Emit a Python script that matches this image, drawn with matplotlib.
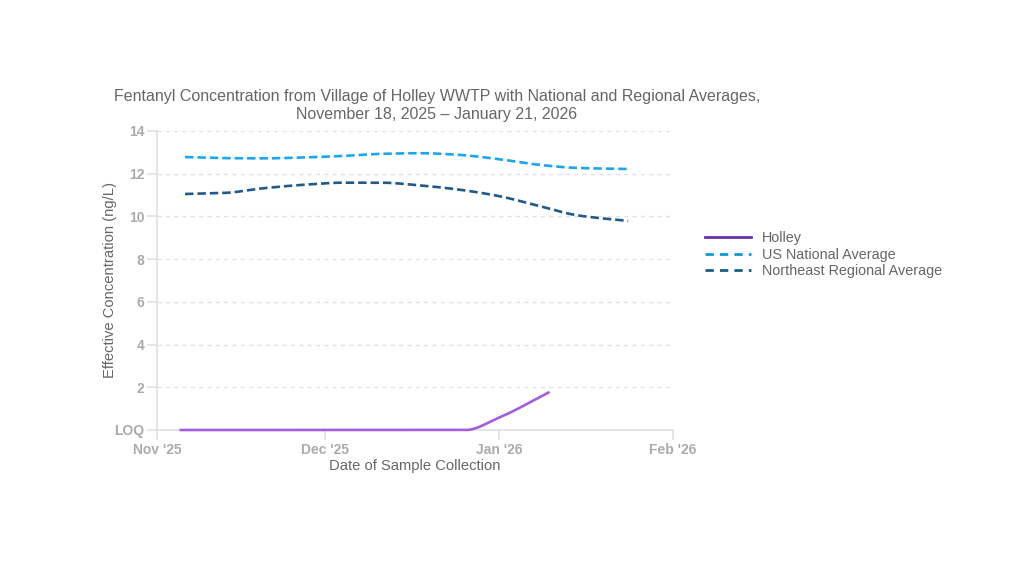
import datetime
import numpy as np
import matplotlib
matplotlib.use('agg')
import matplotlib.pyplot as plt
import matplotlib.dates as mdates
from matplotlib.lines import Line2D

plt.rcParams['font.family'] = ['Liberation Sans', 'DejaVu Sans']

# Data
holley_dates = ["2025-11-05", "2025-11-12", "2025-11-19", "2025-11-26", "2025-12-03",
                "2025-12-10", "2025-12-17", "2025-12-26", "2026-01-01", "2026-01-10"]
holley_values = [0, 0, 0, 0, 0, 0, 0, 0, 0.58, 1.78]

avg_dates = ["2025-11-06", "2025-11-13", "2025-11-20", "2025-11-27", "2025-12-04", "2025-12-11",
             "2025-12-18", "2025-12-25", "2026-01-01", "2026-01-08", "2026-01-15", "2026-01-24"]
national_values = [12.78, 12.73, 12.72, 12.76, 12.83, 12.93, 12.96, 12.88, 12.68, 12.42, 12.27, 12.22]
northeast_values = [11.05, 11.10, 11.32, 11.48, 11.58, 11.58, 11.45, 11.25, 10.95, 10.50, 10.05, 9.79]

y_ticks = [0, 2, 4, 6, 8, 10, 12, 14]
y_tick_labels = ["LOQ", "2", "4", "6", "8", "10", "12", "14"]
x_ticks = ["2025-11-01", "2025-12-01", "2026-01-01", "2026-02-01"]
x_tick_labels = ["Nov '25", "Dec '25", "Jan '26", "Feb '26"]

HOLLEY_COLOR = "#a25de0"
NATIONAL_COLOR = "#1aa6f2"
NORTHEAST_COLOR = "#1f5a8a"


def to_num(dates):
    return mdates.date2num([datetime.datetime.strptime(d, "%Y-%m-%d") for d in dates])


def monotone_curve(x, y, n=30):
    # monotone cubic (Fritsch-Carlson) for drawing a smooth line through the points
    x = np.asarray(x, float)
    y = np.asarray(y, float)
    h = np.diff(x)
    d = np.diff(y) / h
    m = np.zeros_like(y)
    m[0], m[-1] = d[0], d[-1]
    for i in range(1, len(y) - 1):
        if d[i - 1] * d[i] <= 0:
            m[i] = 0
        else:
            w1 = 2 * h[i] + h[i - 1]
            w2 = h[i] + 2 * h[i - 1]
            m[i] = (w1 + w2) / (w1 / d[i - 1] + w2 / d[i])
    xs, ys = [], []
    for i in range(len(h)):
        t = np.linspace(0, 1, n, endpoint=(i == len(h) - 1))
        h00 = 2 * t**3 - 3 * t**2 + 1
        h10 = t**3 - 2 * t**2 + t
        h01 = -2 * t**3 + 3 * t**2
        h11 = t**3 - t**2
        xs.append(x[i] + t * h[i])
        ys.append(h00 * y[i] + h10 * h[i] * m[i] + h01 * y[i + 1] + h11 * h[i] * m[i + 1])
    return np.concatenate(xs), np.concatenate(ys)


fig = plt.figure(figsize=(10.3, 5.8), dpi=100)
ax = fig.add_axes([157 / 1030, 1 - 430 / 580, 516 / 1030, 299 / 580])

hx, hy = monotone_curve(to_num(holley_dates), holley_values)
ax.plot(hx, hy, color=HOLLEY_COLOR, lw=1.9, solid_capstyle='butt', clip_on=False, zorder=5)
nx, ny = monotone_curve(to_num(avg_dates), national_values)
ax.plot(nx, ny, color=NATIONAL_COLOR, lw=1.9, dashes=(3.2, 1.5), clip_on=False, zorder=4)
ex, ey = monotone_curve(to_num(avg_dates), northeast_values)
ax.plot(ex, ey, color=NORTHEAST_COLOR, lw=1.9, dashes=(3.2, 1.5), clip_on=False, zorder=4)

ax.set_xlim(to_num(["2025-11-01"])[0], to_num(["2026-02-01"])[0])
ax.set_ylim(0, 14)
ax.set_xticks(to_num(x_ticks))
ax.set_xticklabels(x_tick_labels)
ax.set_yticks(y_ticks)
ax.set_yticklabels(y_tick_labels)

for yv in y_ticks[1:]:
    ax.axhline(yv, color="#e2e2e2", lw=1, dashes=(3, 3), zorder=0)

for side in ["top", "right"]:
    ax.spines[side].set_visible(False)
for side in ["left", "bottom"]:
    ax.spines[side].set_color("#e0e0e0")
    ax.spines[side].set_linewidth(1.2)

ax.tick_params(axis='both', colors="#e0e0e0", length=7, width=1.2,
               labelcolor="#ababab", labelsize=10, pad=2)
for lbl in ax.get_xticklabels() + ax.get_yticklabels():
    lbl.set_fontweight('bold')

ax.set_xlabel("Date of Sample Collection", color="#666666", fontsize=10.6, labelpad=2)
ax.set_ylabel("Effective Concentration (ng/L)", color="#666666", fontsize=10.6, labelpad=-2)

fig.text(437 / 1030, 1 - 96 / 580,
         "Fentanyl Concentration from Village of Holley WWTP with National and Regional Averages,",
         ha='center', va='center', color="#666666", fontsize=11.5)
fig.text(437 / 1030, 1 - 115 / 580, "November 18, 2025 \u2013 January 21, 2026",
         ha='center', va='center', color="#666666", fontsize=11.5)

handles = [
    Line2D([], [], color="#7030a0", lw=2),
    Line2D([], [], color="#0e9ad8", lw=2, dashes=(3.0, 2.2)),
    Line2D([], [], color="#1a5f85", lw=2, dashes=(3.0, 2.2)),
]
labels = ["Holley", "US National Average", "Northeast Regional Average"]
fig.legend(handles, labels, loc='upper left', bbox_to_anchor=(698 / 1030, 1 - 224 / 580),
           frameon=False, fontsize=10.4, labelcolor="#666666", handlelength=3.2,
           handletextpad=0.75, labelspacing=0.18, borderpad=0)

fig.savefig("out.png", dpi=100)
